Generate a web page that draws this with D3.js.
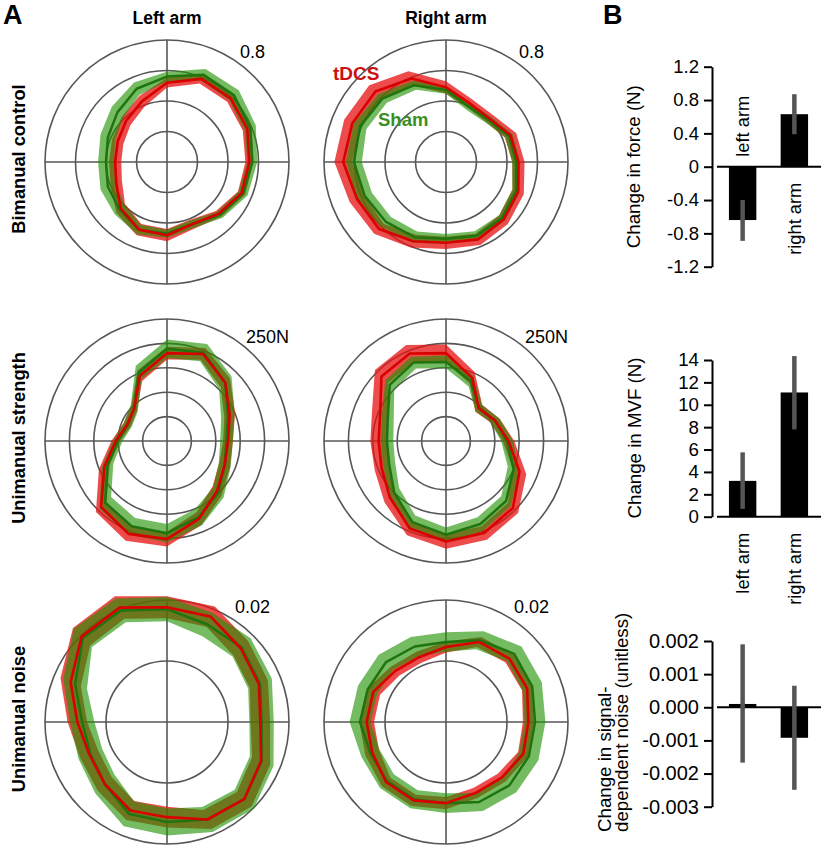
<!DOCTYPE html>
<html><head><meta charset="utf-8">
<script src="https://cdn.jsdelivr.net/npm/d3@7"></script>
<style>body{margin:0;background:#fff}svg{display:block;font-family:"Liberation Sans",Arial,Helvetica,sans-serif}</style>
</head><body>
<svg id="chart" width="825" height="850"></svg>
<script>
// ---------- DATA ----------
// direction angles (degrees, counter-clockwise from the right/east)
const directions = [0,22.5,45,67.5,90,112.5,135,157.5,180,202.5,225,247.5,270,292.5,315,337.5];

// Bimanual control (scale 0..0.8)
const bimanualRings = [0.2,0.4,0.6,0.8];
const bimanualLeftTdcs   = [0.54,0.57,0.59,0.59,0.52,0.43,0.38,0.35,0.34,0.36,0.43,0.48,0.48,0.44,0.48,0.53];
const bimanualLeftTdcsSE = [0.026,0.032,0.032,0.032,0.032,0.04,0.04,0.04,0.04,0.04,0.04,0.04,0.04,0.032,0.026,0.026];
const bimanualLeftSham   = [0.56,0.59,0.62,0.62,0.56,0.52,0.46,0.42,0.40,0.42,0.44,0.48,0.47,0.44,0.49,0.54];
const bimanualLeftShamSE = [0.032,0.04,0.045,0.04,0.032,0.045,0.052,0.052,0.052,0.052,0.045,0.032,0.026,0.026,0.026,0.032];
const bimanualRightTdcs   = [0.475,0.458,0.403,0.414,0.49,0.593,0.654,0.665,0.674,0.632,0.621,0.562,0.53,0.549,0.534,0.512];
const bimanualRightTdcsSE = [0.04,0.04,0.032,0.032,0.04,0.052,0.058,0.058,0.058,0.052,0.045,0.045,0.04,0.04,0.04,0.04];
const bimanualRightSham   = [0.46,0.447,0.392,0.392,0.473,0.545,0.589,0.61,0.604,0.578,0.556,0.534,0.504,0.523,0.519,0.497];
const bimanualRightShamSE = [0.026,0.026,0.026,0.026,0.026,0.032,0.04,0.045,0.052,0.052,0.045,0.04,0.032,0.032,0.026,0.026];

// Unimanual strength (N, scale 0..250)
const strengthRings = [50,100,150,200,250];
const strengthLeftTdcs   = [125,139,169,193,180,145,95,88,105,139,191,206,201,172,145,128];
const strengthLeftTdcsSE = [10,12,13,13,13,12,8,8,9,12,15,15,15,14,13,12];
const strengthLeftSham   = [122,135,169,196,189,152,95,87,101,132,179,189,189,169,149,128];
const strengthLeftShamSE = [13,15,18,19,19,15,10,9,10,13,17,18,19,18,15,13];
const strengthRightTdcs   = [128,109,95,140,180,194,187,146,138,143,163,194,206,204,194,163];
const strengthRightTdcsSE = [12,10,10,13,18,19,19,18,17,15,15,15,15,15,15,15];
const strengthRightSham   = [125,109,95,133,162,174,163,129,121,126,150,180,192,184,174,150];
const strengthRightShamSE = [12,10,9,12,13,13,13,13,13,13,14,15,15,15,14,13];

// Unimanual noise (scale 0..0.02)
const noiseRings = [0.01,0.02];
const noiseLeftTdcs   = [0.0153,0.0163,0.0171,0.0187,0.0188,0.0203,0.0198,0.0171,0.0147,0.0138,0.0144,0.0157,0.0156,0.0173,0.0179,0.0167];
const noiseLeftTdcsSE = [0.0016,0.0016,0.0017,0.0018,0.0018,0.002,0.002,0.0018,0.0016,0.0016,0.0016,0.0017,0.0017,0.0017,0.0017,0.0016];
const noiseLeftSham   = [0.0155,0.0165,0.0173,0.0173,0.0185,0.0198,0.0195,0.0163,0.0139,0.0136,0.0144,0.0163,0.0164,0.0173,0.0179,0.0168];
const noiseLeftShamSE = [0.002,0.0021,0.0021,0.0021,0.002,0.0021,0.0021,0.0021,0.002,0.0021,0.0022,0.0022,0.0022,0.0022,0.0022,0.0021];
const noiseRightTdcs   = [0.0135,0.0144,0.0147,0.0142,0.0123,0.0115,0.0118,0.0129,0.0130,0.0131,0.0139,0.0139,0.0133,0.0126,0.0129,0.0137];
const noiseRightTdcsSE = [0.0009,0.0009,0.0009,0.0009,0.0009,0.001,0.001,0.0012,0.0012,0.0012,0.001,0.001,0.001,0.0009,0.0009,0.0009];
const noiseRightSham   = [0.0146,0.0153,0.0158,0.0145,0.0131,0.0134,0.0139,0.0139,0.0141,0.0134,0.0137,0.0137,0.0133,0.0142,0.0147,0.0147];
const noiseRightShamSE = [0.0017,0.0017,0.0017,0.0016,0.0016,0.0017,0.0017,0.0017,0.0017,0.0016,0.0016,0.0016,0.0016,0.0016,0.0016,0.0017];

// Panel B bar charts
const armCategories = ["left arm","right arm"];
const forceChange = [-0.64, 0.63];
const forceErrLo  = [-0.89, 0.39];
const forceErrHi  = [-0.40, 0.87];
const forceTicks  = [1.2,0.8,0.4,0,-0.4,-0.8,-1.2];
const forceTickLabels = ["1.2","0.8","0.4","0","-0.4","-0.8","-1.2"];

const mvfChange = [3.2, 11.1];
const mvfErrLo  = [0.7, 7.8];
const mvfErrHi  = [5.75, 14.35];
const mvfTicks  = [0,2,4,6,8,10,12,14];
const mvfTickLabels = ["0","2","4","6","8","10","12","14"];

const noiseChange = [0.0001, -0.00092];
const noiseErrLo  = [-0.00167, -0.00249];
const noiseErrHi  = [0.0019, 0.00065];
const noiseTicks  = [0.002,0.001,0,-0.001,-0.002,-0.003];
const noiseTickLabels = ["0.002","0.001","0.000","-0.001","-0.002","-0.003"];

// ---------- DRAWING ----------
const svg = d3.select("#chart");
const R = 122;
const colX = [167, 446];
const rowY = [162, 441, 722];
const labelDx = [73, 79, 68];
const labelDy = [-104, -98, -109];

const polarPanels = [
  {row:0,col:0,max:0.8,rings:bimanualRings,label:"0.8",t:bimanualLeftTdcs,tse:bimanualLeftTdcsSE,s:bimanualLeftSham,sse:bimanualLeftShamSE},
  {row:0,col:1,max:0.8,rings:bimanualRings,label:"0.8",t:bimanualRightTdcs,tse:bimanualRightTdcsSE,s:bimanualRightSham,sse:bimanualRightShamSE},
  {row:1,col:0,max:250,rings:strengthRings,label:"250N",t:strengthLeftTdcs,tse:strengthLeftTdcsSE,s:strengthLeftSham,sse:strengthLeftShamSE},
  {row:1,col:1,max:250,rings:strengthRings,label:"250N",t:strengthRightTdcs,tse:strengthRightTdcsSE,s:strengthRightSham,sse:strengthRightShamSE},
  {row:2,col:0,max:0.02,rings:noiseRings,label:"0.02",t:noiseLeftTdcs,tse:noiseLeftTdcsSE,s:noiseLeftSham,sse:noiseLeftShamSE},
  {row:2,col:1,max:0.02,rings:noiseRings,label:"0.02",t:noiseRightTdcs,tse:noiseRightTdcsSE,s:noiseRightSham,sse:noiseRightShamSE}
];

const toAngle = deg => (90 - deg) * Math.PI / 180;

polarPanels.forEach(p => {
  const cx = colX[p.col], cy = rowY[p.row];
  const g = svg.append("g").attr("transform", `translate(${cx},${cy})`);
  const r = d3.scaleLinear().domain([0, p.max]).range([0, R]);
  g.selectAll("circle.ring").data(p.rings).join("circle")
    .attr("r", d => r(d)).attr("fill","none").attr("stroke","#575757").attr("stroke-width",1.6);
  g.append("line").attr("x1",-R).attr("x2",R).attr("y1",0).attr("y2",0).attr("stroke","#575757").attr("stroke-width",1.6);
  g.append("line").attr("y1",-R).attr("y2",R).attr("x1",0).attr("x2",0).attr("stroke","#575757").attr("stroke-width",1.6);

  const mk = (m, se) => directions.map((a,i) => ({a:toAngle(a), m:m[i], se:se[i]}));
  const tD = mk(p.t, p.tse), sD = mk(p.s, p.sse);
  const area = d3.areaRadial().angle(d => d.a)
    .innerRadius(d => r(d.m - d.se)).outerRadius(d => r(d.m + d.se)).curve(d3.curveLinearClosed);
  const line = d3.lineRadial().angle(d => d.a).radius(d => r(d.m)).curve(d3.curveLinearClosed);

  g.append("path").attr("d", area(tD)).attr("fill","rgb(230,20,20)").attr("fill-opacity",0.76).attr("fill-rule","evenodd");
  g.append("path").attr("d", area(sD)).attr("fill","rgb(30,145,0)").attr("fill-opacity",0.62).attr("fill-rule","evenodd");
  g.append("path").attr("d", line(sD)).attr("fill","none").attr("stroke","#1f7410").attr("stroke-width",2.5).attr("stroke-linejoin","round");
  g.append("path").attr("d", line(tD)).attr("fill","none").attr("stroke","#d80000").attr("stroke-width",2.6).attr("stroke-linejoin","round");

  g.append("text").attr("x", labelDx[p.row]).attr("y", labelDy[p.row])
    .attr("font-size",18).attr("fill","#000").text(p.label);
});

// Panel letters and titles
svg.append("text").attr("x",3).attr("y",24).attr("font-size",27).attr("font-weight","bold").text("A");
svg.append("text").attr("x",603).attr("y",24).attr("font-size",27).attr("font-weight","bold").text("B");
svg.append("text").attr("x",colX[0]).attr("y",24).attr("text-anchor","middle").attr("font-size",17.5).attr("font-weight","bold").text("Left arm");
svg.append("text").attr("x",colX[1]).attr("y",24).attr("text-anchor","middle").attr("font-size",17.5).attr("font-weight","bold").text("Right arm");
const rowLabels = ["Bimanual control","Unimanual strength","Unimanual noise"];
rowLabels.forEach((t,i) => {
  svg.append("text").attr("transform",`translate(25,${rowY[i]-3}) rotate(-90)`)
    .attr("text-anchor","middle").attr("font-size",18.3).attr("font-weight","bold").text(t);
});
svg.append("text").attr("x",333).attr("y",80).attr("font-size",19).attr("font-weight","bold").attr("fill","#cc1010").text("tDCS");
svg.append("text").attr("x",378).attr("y",126).attr("font-size",18.5).attr("font-weight","bold").attr("fill","#3c8f22").text("Sham");

// Bar charts
const barCharts = [
  {domain:[-1.2,1.2], range:[266.7,66.7], ticks:forceTicks, labels:forceTickLabels, vals:forceChange, lo:forceErrLo, hi:forceErrHi, fs:18.5, showCats:true,
   title:["Change in force (N)"], titleX:[640], titleY:166.7, anchor:"middle"},
  {domain:[0,14], range:[516.7,360], ticks:mvfTicks, labels:mvfTickLabels, vals:mvfChange, lo:mvfErrLo, hi:mvfErrHi, fs:18.7, showCats:true,
   title:["Change in MVF (N)"], titleX:[641], titleY:438, anchor:"middle"},
  {domain:[-0.003,0.002], range:[806.7,641], ticks:noiseTicks, labels:noiseTickLabels, vals:noiseChange, lo:noiseErrLo, hi:noiseErrHi, fs:20, showCats:false,
   title:["Change in signal-","dependent noise (unitless)"], titleX:[611,628], titleY:832, anchor:"start"}
];

barCharts.forEach(c => {
  const y = d3.scaleLinear().domain(c.domain).range(c.range);
  const x = d3.scaleBand().domain(armCategories).range([716,821]).paddingInner(0.47).paddingOuter(0.25);
  const ax = svg.append("g").attr("transform","translate(712,0)")
    .call(d3.axisLeft(y).tickValues(c.ticks).tickSize(8).tickSizeOuter(0).tickPadding(5)
      .tickFormat((d,i) => c.labels[i]));
  ax.select(".domain").attr("stroke","#000").attr("stroke-width",2);
  ax.selectAll(".tick line").attr("stroke","#000").attr("stroke-width",2);
  ax.selectAll(".tick text").attr("font-size",c.fs).attr("font-family","'Liberation Sans',Arial,sans-serif").attr("fill","#000");

  svg.append("line").attr("x1",717).attr("x2",821).attr("y1",y(0)).attr("y2",y(0)).attr("stroke","#000").attr("stroke-width",2);
  svg.selectAll(null).data(armCategories).enter().append("rect")
    .attr("x", d => x(d)).attr("width", x.bandwidth())
    .attr("y", (d,i) => Math.min(y(0), y(c.vals[i])))
    .attr("height", (d,i) => Math.abs(y(c.vals[i]) - y(0)))
    .attr("fill","#000");
  svg.selectAll(null).data(armCategories).enter().append("line")
    .attr("x1", d => x(d) + x.bandwidth()/2).attr("x2", d => x(d) + x.bandwidth()/2)
    .attr("y1", (d,i) => y(c.lo[i])).attr("y2", (d,i) => y(c.hi[i]))
    .attr("stroke","#555").attr("stroke-width",4.5);

  if (c.showCats) {
    armCategories.forEach((cat,i) => {
      const cxm = x(cat) + x.bandwidth()/2;
      const above = c.vals[i] < 0;
      svg.append("text")
        .attr("transform", `translate(${cxm},${above ? y(0)-10 : y(0)+16}) rotate(-90)`)
        .attr("text-anchor", above ? "start" : "end").attr("dy","0.35em")
        .attr("font-size",18.3).text(cat);
    });
  }
  c.title.forEach((t,k) => {
    svg.append("text").attr("transform",`translate(${c.titleX[k]},${c.titleY}) rotate(-90)`)
      .attr("text-anchor", c.anchor).attr("font-size",18.7).text(t);
  });
});
</script>
</body></html>
